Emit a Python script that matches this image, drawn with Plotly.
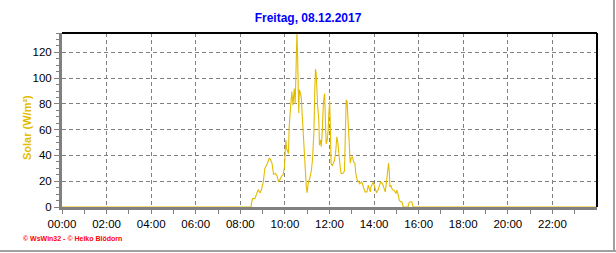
import plotly.graph_objects as go

# ---- data (hours of day, solar W/m²) ----
hours = [0.0, 8.48, 8.50, 8.55, 8.65, 8.73, 8.80, 8.88, 8.95, 9.03, 9.10, 9.22, 9.30, 9.35, 9.42,
         9.49, 9.58, 9.65, 9.71, 9.77, 9.85, 9.92, 9.98, 10.04, 10.08, 10.16, 10.19, 10.25, 10.31,
         10.36, 10.42, 10.46, 10.50, 10.54, 10.57, 10.60, 10.62, 10.65, 10.69, 10.73, 10.78, 10.85,
         10.91, 10.96, 11.00, 11.04, 11.11, 11.19, 11.24, 11.30, 11.34, 11.37, 11.40, 11.43, 11.47,
         11.52, 11.55, 11.60, 11.63, 11.67, 11.70, 11.73, 11.78, 11.81, 11.85, 11.90, 11.94, 11.97,
         12.01, 12.04, 12.07, 12.12, 12.18, 12.22, 12.27, 12.33, 12.37, 12.42, 12.48, 12.52, 12.60,
         12.67, 12.72, 12.75, 12.79, 12.82, 12.86, 12.90, 12.93, 12.97, 13.03, 13.08, 13.14, 13.18,
         13.24, 13.30, 13.36, 13.44, 13.48, 13.54, 13.60, 13.68, 13.74, 13.78, 13.83, 13.86, 13.90,
         13.96, 14.00, 14.05, 14.11, 14.17, 14.23, 14.30, 14.38, 14.45, 14.50, 14.53, 14.57, 14.62,
         14.65, 14.68, 14.71, 14.75, 14.80, 14.86, 14.90, 14.98, 15.02, 15.07, 15.13, 15.20, 15.25,
         15.31, 15.52, 15.56, 15.60, 15.70, 15.75, 24.0]
solar = [0, 0, 3, 6.5, 6.5, 10.4, 13.5, 10.9, 13.5, 19.5, 30, 34, 38, 37, 34,
         25.4, 26, 24, 19.5, 21, 24, 25, 31, 52, 45, 41.5, 62, 76.5, 89.5,
         79, 92, 80, 120, 135, 117, 98, 73, 91, 88, 85.6, 70, 49,
         23, 15.6, 11, 18, 22, 28.5, 37.6, 58, 91, 107, 104, 91, 78,
         67.5, 48, 52, 46.7, 57, 78, 82, 88, 70, 49, 52, 59.7, 72.7,
         82, 59.7, 34, 32, 34, 36, 41.5, 54.5, 50.6, 39, 31, 26, 26,
         28, 54.5, 83, 82, 70, 57, 44, 34, 37.6, 39, 35, 34, 26,
         21, 19.5, 18, 19.5, 18, 14.3, 11.7, 11.7, 17, 14.3, 11.7, 15.6, 17,
         19.5, 17, 13.5, 11, 13, 15.6, 19.5, 18, 14.3, 11.7, 15.6, 23, 28.5,
         34, 27.5, 15.6, 17, 14.3, 13, 13, 10.4, 13, 10.4, 5.2, 3.9, 3.9,
         0, 0, 3, 3.9, 3.9, 0, 0]

x_tickvals = list(range(0, 24, 2))
x_ticktext = ["00:00", "02:00", "04:00", "06:00", "08:00", "10:00",
              "12:00", "14:00", "16:00", "18:00", "20:00", "22:00"]
y_tickvals = [0, 20, 40, 60, 80, 100, 120]

title_text = "Freitag, 08.12.2017"
y_title = "Solar (W/m²)"
footer = "© WsWin32 - © Heiko Blödorn"

W, H = 616, 253
L, R, T, B = 62, 19, 33, 46
pw, ph = W - L - R, H - T - B


def px(x):
    return (x - L) / pw


def py(y):
    return (H - B - y) / ph


fig = go.Figure(go.Scatter(x=hours, y=solar, mode="lines",
                           line=dict(color="#E3BC00", width=1.1),
                           hoverinfo="skip"))

grid = dict(showgrid=True, gridcolor="#808080", gridwidth=1, griddash="4px,3px",
            zeroline=False, showline=True, linecolor="#808080", linewidth=3,
            ticks="outside", tickcolor="#808080", tickwidth=1,
            tickfont=dict(family="Liberation Sans, Arial", size=11.5, color="black"))

fig.update_layout(
    width=W, height=H,
    margin=dict(l=L, r=R, t=T, b=B),
    paper_bgcolor="white", plot_bgcolor="white",
    showlegend=False,
    xaxis=dict(range=[0, 24], tickvals=x_tickvals, ticktext=x_ticktext, ticklen=4,
               minor=dict(tickvals=list(range(1, 24, 2)), ticks="outside", ticklen=4,
                          tickcolor="#808080", showgrid=False),
               **grid),
    yaxis=dict(range=[0, 135], tickvals=y_tickvals, ticklen=5,
               minor=dict(dtick=5, tick0=0, ticks="outside", ticklen=3,
                          tickcolor="#808080", showgrid=False),
               **grid),
    title=dict(text="<b>" + title_text + "</b>", x=0.5, xref="container", xanchor="center",
               y=1 - 18 / H, yref="container", yanchor="middle",
               font=dict(family="Liberation Sans, Arial", size=12, color="#0000FF")),
)

shapes = [
    # top and right black border of plot
    dict(type="line", xref="paper", yref="paper", x0=0, x1=1, y0=1, y1=1,
         line=dict(color="black", width=2)),
    dict(type="line", xref="paper", yref="paper", x0=1, x1=1, y0=0, y1=1,
         line=dict(color="black", width=2)),
    # outer grey frame (right, bottom)
    dict(type="line", xref="paper", yref="paper", x0=px(614), x1=px(614), y0=py(0), y1=py(252),
         line=dict(color="#A0A0A0", width=2)),
    dict(type="line", xref="paper", yref="paper", x0=px(0), x1=px(616), y0=py(251), y1=py(251),
         line=dict(color="#A0A0A0", width=2)),
]
fig.update_layout(shapes=shapes)

fig.add_annotation(text="<b>" + y_title + "</b>", xref="paper", yref="paper",
                   x=px(27), y=py(128), textangle=-90, showarrow=False,
                   xanchor="center", yanchor="middle",
                   font=dict(family="Liberation Sans, Arial", size=11, color="#E3BC00"))
fig.add_annotation(text="<b>" + footer + "</b>", xref="paper", yref="paper",
                   x=px(21), y=py(238), showarrow=False, xanchor="left", yanchor="middle",
                   font=dict(family="Liberation Sans, Arial", size=7, color="#FF0000"))

fig.write_html("out.html")
